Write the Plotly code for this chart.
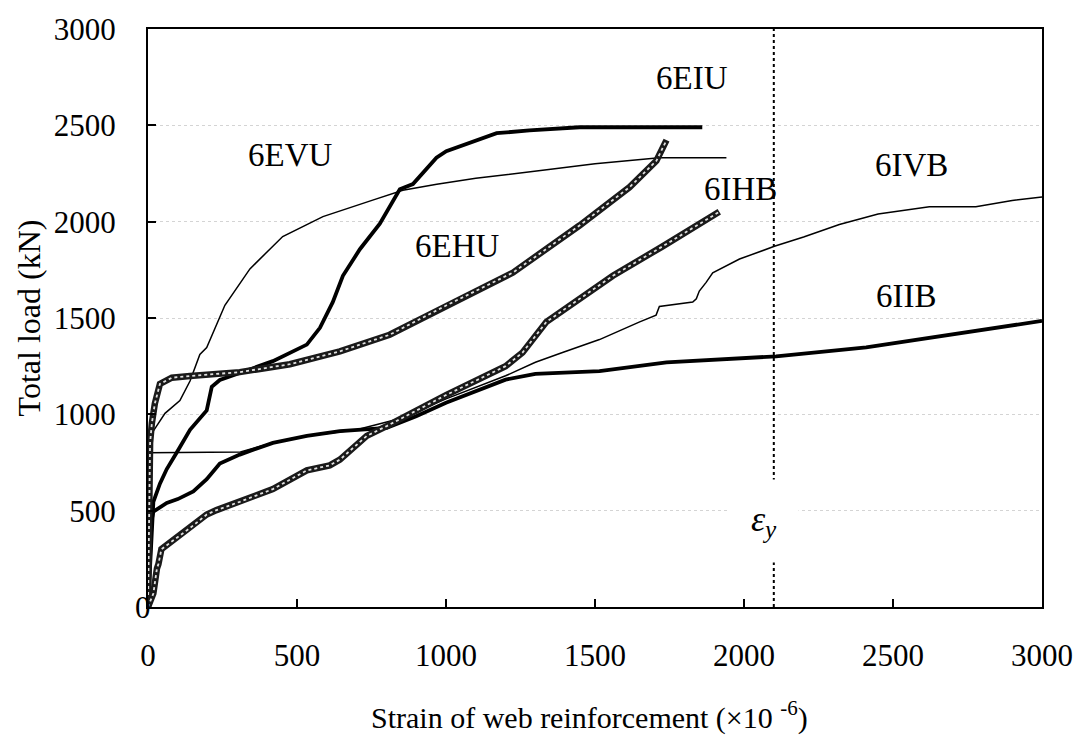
import plotly.graph_objects as go

# ---------------- data ----------------
evu_x = [0, 0, 7, 57, 107, 141, 174, 197, 258, 342, 452, 587, 754, 855, 969, 1100, 1338, 1500, 1716, 1941]
evu_y = [0, 800, 888, 1005, 1071, 1173, 1311, 1347, 1566, 1755, 1923, 2026, 2112, 2163, 2194, 2225, 2270, 2300, 2332, 2332]

eiu_x = [0, 10, 12, 18, 40, 63, 96, 141, 197, 214, 241, 300, 419, 533, 577, 620, 654, 711, 778, 845, 889, 968, 1001, 1170, 1280, 1448, 1860]
eiu_y = [0, 300, 450, 546, 640, 716, 801, 920, 1020, 1143, 1178, 1210, 1276, 1362, 1449, 1582, 1719, 1857, 1990, 2168, 2195, 2332, 2366, 2459, 2474, 2490, 2490]

ehu_x = [0, 3, 7, 13, 23, 40, 80, 141, 308, 476, 644, 811, 1002, 1225, 1448, 1616, 1706, 1740]
ehu_y = [0, 500, 852, 954, 1056, 1158, 1190, 1199, 1219, 1260, 1327, 1413, 1566, 1736, 1980, 2179, 2316, 2423]

ihb_x = [0, 18, 30, 35, 45, 85, 141, 197, 230, 308, 419, 533, 610, 644, 734, 801, 1000, 1200, 1257, 1337, 1450, 1560, 1727, 1917]
ihb_y = [0, 70, 200, 223, 300, 345, 410, 480, 503, 546, 612, 709, 735, 765, 888, 939, 1100, 1250, 1321, 1480, 1600, 1719, 1872, 2051]

ivb_x = [0, 0, 310, 419, 533, 700, 850, 1000, 1200, 1300, 1391, 1515, 1650, 1705, 1716, 1828, 1840, 1850, 1873, 1895, 1985, 2102, 2200, 2320, 2450, 2622, 2778, 2900, 3000]
ivb_y = [0, 800, 805, 852, 888, 920, 980, 1080, 1200, 1270, 1321, 1388, 1480, 1515, 1560, 1583, 1600, 1640, 1685, 1735, 1806, 1872, 1920, 1985, 2040, 2077, 2077, 2110, 2128]

iib_x = [0, 8, 12, 18, 40, 63, 100, 152, 197, 241, 308, 419, 533, 644, 801, 900, 1000, 1100, 1200, 1300, 1515, 1740, 2108, 2410, 2632, 3000]
iib_y = [0, 300, 450, 495, 515, 540, 560, 600, 663, 745, 791, 852, 888, 913, 930, 990, 1060, 1120, 1180, 1210, 1224, 1270, 1301, 1347, 1398, 1485]

label_text = ["6EVU", "6EIU", "6EHU", "6IHB", "6IVB", "6IIB"]
label_x = [476, 1827, 1036, 1988, 2561, 2544]
label_y = [2347, 2747, 1872, 2168, 2293, 1612]

eps_y_strain = 2100
x_ticks = [0, 500, 1000, 1500, 2000, 2500, 3000]
y_ticks = [0, 500, 1000, 1500, 2000, 2500, 3000]

FONT = "Liberation Serif, Times New Roman, serif"

fig = go.Figure()

def thin(x, y, name):
    fig.add_trace(go.Scatter(x=x, y=y, mode="lines", name=name,
                             line=dict(color="black", width=1.5)))

def thick(x, y, name):
    fig.add_trace(go.Scatter(x=x, y=y, mode="lines", name=name,
                             line=dict(color="black", width=3.8)))

def chain(x, y, name):
    fig.add_trace(go.Scatter(x=x, y=y, mode="lines", name=name,
                             line=dict(color="#1a1a1a", width=6.5)))
    fig.add_trace(go.Scatter(x=x, y=y, mode="lines", name=name, showlegend=False,
                             line=dict(color="#e0e0e0", width=1.8, dash="dot")))

thin(evu_x, evu_y, "6EVU")
thin(ivb_x, ivb_y, "6IVB")
thick(iib_x, iib_y, "6IIB")
thick(eiu_x, eiu_y, "6EIU")
chain(ehu_x, ehu_y, "6EHU")
chain(ihb_x, ihb_y, "6IHB")

# yield strain dotted line
fig.add_shape(type="line", xref="x", yref="paper", x0=eps_y_strain, x1=eps_y_strain,
              y0=0, y1=1, line=dict(color="black", width=2, dash="dot"))

for t, x, y in zip(label_text, label_x, label_y):
    fig.add_annotation(x=x, y=y, text=t, showarrow=False,
                       font=dict(family=FONT, size=33, color="black"))

fig.add_annotation(x=2068, y=444, text="<i>ε</i><sub><i>y</i></sub>", showarrow=False,
                   font=dict(family=FONT, size=36, color="black"),
                   bgcolor="white", width=66, height=80)

# y "0" label is drawn separately (offset in the reference)
fig.add_annotation(xref="paper", yref="y", x=-0.006, y=0, text="0", showarrow=False,
                   xanchor="center", yanchor="middle",
                   font=dict(family=FONT, size=31, color="black"))

fig.add_annotation(xref="paper", yref="paper", x=0.494, y=-0.188,
                   text="Strain of web reinforcement (×10 <sup>-6</sup>)",
                   showarrow=False, yanchor="middle",
                   font=dict(family=FONT, size=30, color="black"))

axis_common = dict(showline=True, linecolor="black", linewidth=2, mirror=True,
                   ticks="inside", ticklen=8, tickwidth=1.5, tickcolor="black",
                   zeroline=False, tickfont=dict(family=FONT, size=31, color="black"))

fig.update_xaxes(range=[0, 3000], tickvals=x_ticks, showgrid=False,
                 ticklabelstandoff=20, **axis_common)
fig.update_yaxes(range=[0, 3000], tickvals=y_ticks,
                 ticktext=[""] + [str(v) for v in y_ticks[1:]],
                 showgrid=True, gridcolor="#d4d4d4", gridwidth=1, griddash="dot",
                 ticklabelstandoff=24,
                 title=dict(text="Total load (kN)", standoff=4,
                            font=dict(family=FONT, size=32, color="black")),
                 **axis_common)

fig.update_layout(width=1085, height=747, margin=dict(l=148, r=42, t=20, b=140),
                  paper_bgcolor="white", plot_bgcolor="white", showlegend=False)

fig.write_html("out.html")
